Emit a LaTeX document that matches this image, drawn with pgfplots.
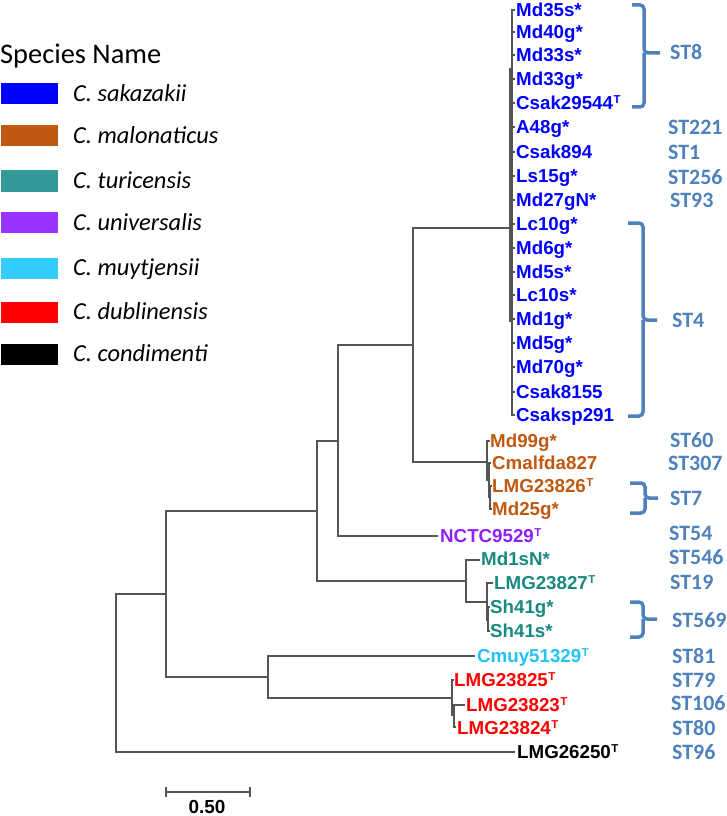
\documentclass[border=0pt]{standalone}
\usepackage{fontspec}
\setmainfont{Liberation Sans}
\newfontfamily\carlito{Carlito}
\usepackage{pgfplots}
\pgfplotsset{compat=1.18}
\definecolor{treegray}{HTML}{555555}
\definecolor{stblue}{HTML}{4F81BD}
\definecolor{csak}{HTML}{0000FF}
\definecolor{cmal}{HTML}{C0590F}
\definecolor{cturS}{HTML}{339999}
\definecolor{ctur}{HTML}{18897F}
\definecolor{cuniS}{HTML}{9933FF}
\definecolor{cuni}{HTML}{8F1FFF}
\definecolor{cmuyS}{HTML}{33CCFF}
\definecolor{cmuy}{HTML}{22C2F5}
\definecolor{cdub}{HTML}{FF0000}
\newcommand{\leaf}[4]{\node[anchor=base west,inner sep=0pt,yshift=-6.8bp,text=#3,font=\bfseries\fontsize{18.8}{19}\selectfont] at (axis cs:#1,#2) {#4};}
\newcommand{\st}[3]{\node[anchor=base west,inner sep=0pt,yshift=-7.1bp,text=stblue,font=\carlito\bfseries\fontsize{22}{22}\selectfont] at (axis cs:#1,#2) {#3};}
\newcommand{\legitem}[3]{\fill[#2] (axis cs:1,{#1-10.5}) rectangle (axis cs:58,{#1+10.5});
  \node[anchor=base west,inner sep=0pt,yshift=-7.9bp,font=\carlito\itshape\fontsize{24.5}{25}\selectfont] at (axis cs:73,#1) {#3};}
\newcommand{\Tt}{\kern0.5pt\raisebox{6.5pt}{\fontsize{11.5}{12}\selectfont T}}
\begin{document}
\begin{tikzpicture}
\begin{axis}[
  width=726bp, height=816bp, scale only axis,
  xmin=0, xmax=726, ymin=0, ymax=816, y dir=reverse,
  hide axis, clip=false,
  tree/.style={color=treegray, line width=1.2bp, no markers, line join=miter},
  brk/.style={color=stblue, line width=3.5bp, no markers, rounded corners=4bp},
]
\path (axis cs:0,0) rectangle (axis cs:726,816);
% tree
\addplot[tree] coordinates {(166,594)(116,594)(116,752)(515,752)};
\addplot[tree] coordinates {(317,511)(166,511)(166,677)(268,677)};
\addplot[tree] coordinates {(475,656)(268,656)(268,698)(452,698)};
\addplot[tree] coordinates {(454,680)(452,680)(452,715)(454,715)};
\addplot[tree] coordinates {(465,705)(454,705)(454,727)(456,727)};
\addplot[tree] coordinates {(338,441)(317,441)(317,581)(466,581)};
\addplot[tree] coordinates {(480,560)(466,560)(466,602)(487,602)};
\addplot[tree] coordinates {(493,583)(487,583)(487,620)(488,620)};
\addplot[tree] coordinates {(490,607)(488,607)(488,631)(490,631)};
\addplot[tree] coordinates {(413,345)(338,345)(338,536)(438,536)};
\addplot[tree] coordinates {(510,228)(413,228)(413,462)(487,462)};
\addplot[tree] coordinates {(490,441)(487,441)(487,480)(489,480)};
\addplot[tree] coordinates {(491,463)(489,463)(489,497)(490,497)};
\addplot[tree] coordinates {(492,486)(490,486)(490,509)(492,509)};
\addplot[tree] coordinates {(510,68)(510,322)};
\addplot[tree] coordinates {(515,10)(512,10)(512,415)(515,415)};
\addplot[tree, unbounded coords=jump] coordinates {
 (512,32)(515,32) (nan,nan) (512,55)(515,55) (nan,nan) (512,79)(515,79) (nan,nan)
 (512,103)(515,103) (nan,nan) (512,127)(515,127) (nan,nan) (512,152)(515,152) (nan,nan)
 (512,176)(515,176) (nan,nan) (512,200)(515,200) (nan,nan) (512,224)(515,224) (nan,nan)
 (512,248)(515,248) (nan,nan) (512,272)(515,272) (nan,nan) (512,295)(515,295) (nan,nan)
 (512,319)(515,319) (nan,nan) (512,343)(515,343) (nan,nan) (512,367)(515,367) (nan,nan)
 (512,392)(515,392)};
% scale bar
\addplot[tree] coordinates {(166,792)(250,792)};
\addplot[tree] coordinates {(166,787)(166,797)};
\addplot[tree] coordinates {(250,787)(250,797)};
\node[anchor=base,inner sep=0pt,font=\bfseries\fontsize{19}{19}\selectfont] at (axis cs:207,813.5) {0.50};
% brackets
\addplot[brk] coordinates {(632,5)(644,5)(644,53)(660,53)};
\addplot[brk] coordinates {(632,107)(644,107)(644,53)};
\addplot[brk] coordinates {(628,223)(643,223)(643,320)(657,320)};
\addplot[brk] coordinates {(628,416)(643,416)(643,320)};
\addplot[brk] coordinates {(630,483)(645,483)(645,498)(658,498)};
\addplot[brk] coordinates {(630,513)(645,513)(645,498)};
\addplot[brk] coordinates {(630,602)(643,602)(643,619)(657,619)};
\addplot[brk] coordinates {(630,637)(643,637)(643,619)};
% leaf labels
\leaf{516}{10}{csak}{Md35s*}
\leaf{516}{32}{csak}{Md40g*}
\leaf{516}{55}{csak}{Md33s*}
\leaf{516}{79}{csak}{Md33g*}
\leaf{516}{103}{csak}{Csak29544\Tt}
\leaf{516}{127}{csak}{A48g*}
\leaf{516}{152}{csak}{Csak894}
\leaf{516}{176}{csak}{Ls15g*}
\leaf{516}{200}{csak}{Md27gN*}
\leaf{516}{224}{csak}{Lc10g*}
\leaf{516}{248}{csak}{Md6g*}
\leaf{516}{272}{csak}{Md5s*}
\leaf{516}{295}{csak}{Lc10s*}
\leaf{516}{319}{csak}{Md1g*}
\leaf{516}{343}{csak}{Md5g*}
\leaf{516}{367}{csak}{Md70g*}
\leaf{516}{392}{csak}{Csak8155}
\leaf{516}{415}{csak}{Csaksp291}
\leaf{490}{441}{cmal}{Md99g*}
\leaf{492}{463}{cmal}{Cmalfda827}
\leaf{492}{486}{cmal}{LMG23826\Tt}
\leaf{492}{509}{cmal}{Md25g*}
\leaf{440}{536}{cuni}{NCTC9529\Tt}
\leaf{481}{559}{ctur}{Md1sN*}
\leaf{494}{583}{ctur}{LMG23827\Tt}
\leaf{490}{607}{ctur}{Sh41g*}
\leaf{490}{631}{ctur}{Sh41s*}
\leaf{477}{656}{cmuy}{Cmuy51329\Tt}
\leaf{454}{680}{cdub}{LMG23825\Tt}
\leaf{466}{705}{cdub}{LMG23823\Tt}
\leaf{457}{728}{cdub}{LMG23824\Tt}
\leaf{517}{752}{black}{LMG26250\Tt}
% ST labels
\st{670}{52}{ST8}
\st{668}{127}{ST221}
\st{668}{152}{ST1}
\st{668}{177}{ST256}
\st{670}{200}{ST93}
\st{672}{320}{ST4}
\st{670}{440}{ST60}
\st{668}{463}{ST307}
\st{670}{498}{ST7}
\st{669}{533}{ST54}
\st{669}{557}{ST546}
\st{670}{582}{ST19}
\st{672}{620}{ST569}
\st{672}{656}{ST81}
\st{672}{680}{ST79}
\st{671}{703}{ST106}
\st{672}{728}{ST80}
\st{672}{752}{ST96}
% legend
\node[anchor=base west,inner sep=0pt,yshift=-9.2bp,font=\carlito\fontsize{28.5}{29}\selectfont] at (axis cs:0,54) {Species Name};
\legitem{94}{csak}{C. sakazakii}
\legitem{136}{cmal}{C. malonaticus}
\legitem{181}{cturS}{C. turicensis}
\legitem{222.5}{cuniS}{C. universalis}
\legitem{268}{cmuyS}{C. muytjensii}
\legitem{312}{cdub}{C. dublinensis}
\legitem{354}{black}{C. condimenti}
\end{axis}
\end{tikzpicture}
\end{document}
